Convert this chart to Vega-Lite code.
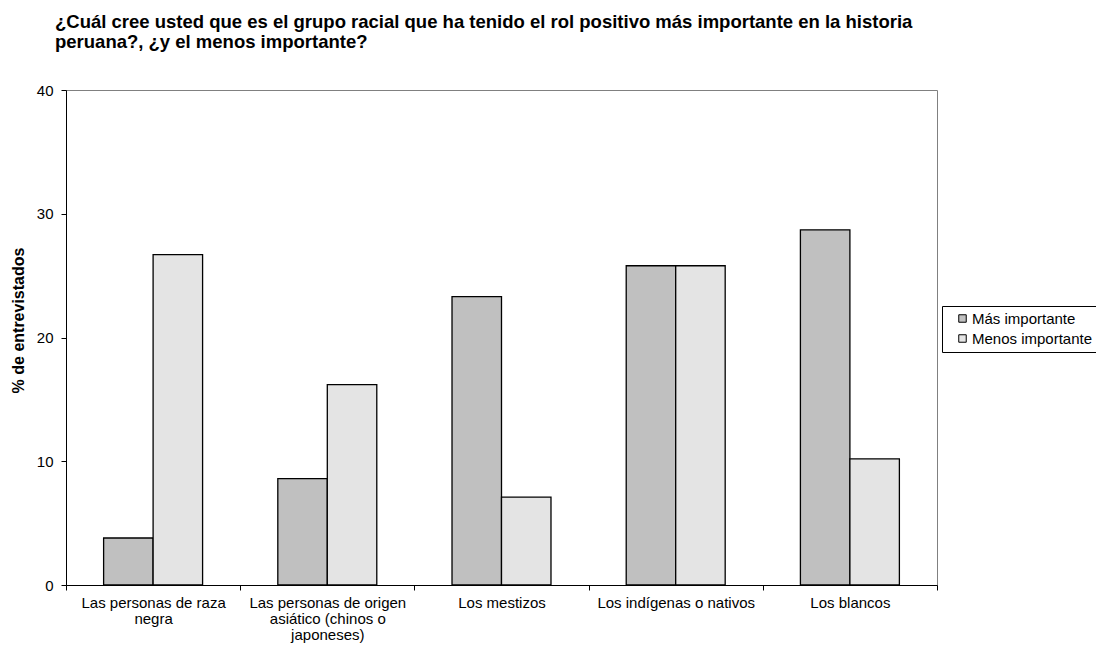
{
  "$schema": "https://vega.github.io/schema/vega-lite/v6.json",
  "width": 871,
  "height": 495,
  "autosize": {"type": "none"},
  "padding": {"left": 66, "top": 90, "right": 159, "bottom": 65},
  "background": "white",
  "config": {
    "font": "Liberation Sans",
    "view": {"stroke": "#808080", "strokeWidth": 1}
  },
  "title": {
    "text": ["¿Cuál cree usted que es el grupo racial que ha tenido el rol positivo más importante en la historia", "peruana?, ¿y el menos importante?"],
    "anchor": "start",
    "frame": "group",
    "font": "Liberation Sans",
    "fontSize": 18.5,
    "fontWeight": "bold",
    "color": "black",
    "lineHeight": 20,
    "offset": 32,
    "dx": -11
  },
  "data": {
    "values": [
      {"grupo": "Las personas de raza negra", "respuesta": "Más importante", "pct": 3.8},
      {"grupo": "Las personas de raza negra", "respuesta": "Menos importante", "pct": 26.7},
      {"grupo": "Las personas de origen asiático (chinos o japoneses)", "respuesta": "Más importante", "pct": 8.6},
      {"grupo": "Las personas de origen asiático (chinos o japoneses)", "respuesta": "Menos importante", "pct": 16.2},
      {"grupo": "Los mestizos", "respuesta": "Más importante", "pct": 23.3},
      {"grupo": "Los mestizos", "respuesta": "Menos importante", "pct": 7.1},
      {"grupo": "Los indígenas o nativos", "respuesta": "Más importante", "pct": 25.8},
      {"grupo": "Los indígenas o nativos", "respuesta": "Menos importante", "pct": 25.8},
      {"grupo": "Los blancos", "respuesta": "Más importante", "pct": 28.7},
      {"grupo": "Los blancos", "respuesta": "Menos importante", "pct": 10.2}
    ]
  },
  "mark": {"type": "bar", "stroke": "black", "strokeWidth": 1.3},
  "encoding": {
    "x": {
      "field": "grupo",
      "type": "nominal",
      "sort": null,
      "scale": {"paddingInner": 0, "paddingOuter": 0},
      "axis": {
        "title": null,
        "labelAngle": 0,
        "labelFont": "Liberation Sans",
        "labelFontSize": 15,
        "labelColor": "black",
        "labelLimit": 0,
        "labelLineHeight": 16,
        "labelPadding": 5,
        "labelExpr": "datum.value == 'Las personas de raza negra' ? ['Las personas de raza', 'negra'] : datum.value == 'Las personas de origen asiático (chinos o japoneses)' ? ['Las personas de origen', 'asiático (chinos o', 'japoneses)'] : datum.value",
        "tickBand": "extent",
        "tickSize": 5,
        "tickColor": "black",
        "domainColor": "black",
        "grid": false
      }
    },
    "xOffset": {
      "field": "respuesta",
      "type": "nominal",
      "sort": null,
      "scale": {"paddingInner": 0, "paddingOuter": 0.76}
    },
    "y": {
      "field": "pct",
      "type": "quantitative",
      "scale": {"domain": [0, 40]},
      "axis": {
        "title": "% de entrevistados",
        "titleFont": "Liberation Sans",
        "titleFontSize": 16,
        "titleFontWeight": "bold",
        "titleColor": "black",
        "titlePadding": 10,
        "titleY": 230,
        "values": [0, 10, 20, 30, 40],
        "labelFont": "Liberation Sans",
        "labelFontSize": 15,
        "labelColor": "black",
        "labelPadding": 8,
        "tickSize": 5,
        "tickColor": "black",
        "domainColor": "black",
        "grid": false
      }
    },
    "color": {
      "field": "respuesta",
      "type": "nominal",
      "sort": null,
      "scale": {"domain": ["Más importante", "Menos importante"], "range": ["#c0c0c0", "#e4e4e4"]},
      "legend": {
        "title": null,
        "orient": "none",
        "legendX": 876,
        "legendY": 216,
        "strokeColor": "black",
        "fillColor": "white",
        "padding": 5,
        "symbolType": "square",
        "symbolSize": 56,
        "symbolOffset": 8,
        "symbolStrokeColor": "black",
        "symbolStrokeWidth": 1,
        "labelFont": "Liberation Sans",
        "labelFontSize": 15,
        "labelColor": "black",
        "labelOffset": 2,
        "rowPadding": 4
      }
    }
  }
}
